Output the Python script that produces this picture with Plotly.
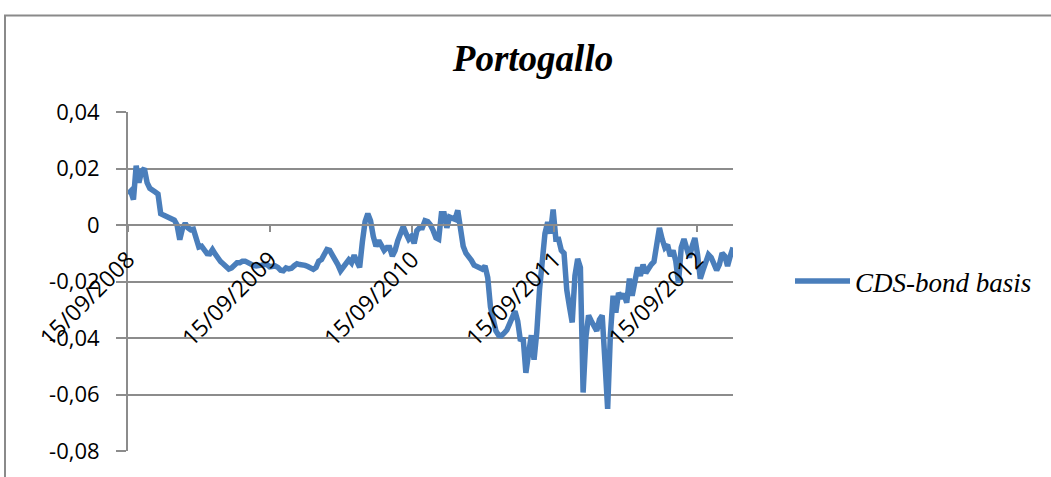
import pandas as pd
import plotly.graph_objects as go

# Weekly CDS-bond basis for Portugal, Sep 2008 - Dec 2012
start_date = "2008-09-15"
basis = [
    0.0110, 0.0120, 0.0090, 0.0210, 0.0150, 0.0190, 0.0200, 0.0150, 0.0130, 0.0120,
    0.0117, 0.0110, 0.0040, 0.0035, 0.0030, 0.0030, 0.0020, 0.0017, 0.0000, -0.0052,
    -0.0012, 0.0006, -0.0010, -0.0017, -0.0015, -0.0050, -0.0078, -0.0075, -0.0090, -0.0101,
    -0.0102, -0.0087, -0.0103, -0.0120, -0.0130, -0.0138, -0.0148, -0.0156, -0.0152, -0.0142,
    -0.0134, -0.0134, -0.0128, -0.0128, -0.0135, -0.0140, -0.0143, -0.0145, -0.0145, -0.0142,
    -0.0140, -0.0140, -0.0148, -0.0146, -0.0145, -0.0150, -0.0160, -0.0162, -0.0152, -0.0155,
    -0.0153, -0.0144, -0.0137, -0.0140, -0.0140, -0.0143, -0.0147, -0.0153, -0.0157, -0.0150,
    -0.0128, -0.0122, -0.0108, -0.0087, -0.0090, -0.0105, -0.0120, -0.0140, -0.0162, -0.0150,
    -0.0140, -0.0123, -0.0134, -0.0107, -0.0130, -0.0150, -0.0060, 0.0012, 0.0040, 0.0015,
    -0.0040, -0.0075, -0.0055, -0.0070, -0.0090, -0.0080, -0.0080, -0.0110, -0.0090, -0.0055,
    -0.0025, -0.0005, -0.0030, -0.0050, -0.0040, -0.0065, -0.0020, -0.0010, -0.0010, 0.0015,
    0.0012, 0.0000, -0.0020, -0.0045, -0.0050, 0.0040, 0.0040, -0.0010, 0.0028, 0.0025,
    0.0020, 0.0052, -0.0020, -0.0075, -0.0100, -0.0110, -0.0125, -0.0142, -0.0148, -0.0153,
    -0.0156, -0.0145, -0.0186, -0.0290, -0.0340, -0.0375, -0.0390, -0.0392, -0.0383, -0.0372,
    -0.0350, -0.0325, -0.0305, -0.0340, -0.0410, -0.0400, -0.0523, -0.0454, -0.0390, -0.0477,
    -0.0380, -0.0230, -0.0100, -0.0030, 0.0010, -0.0030, 0.0055, -0.0050, -0.0050, -0.0090,
    -0.0100, -0.0230, -0.0290, -0.0345, -0.0180, -0.0120, -0.0150, -0.0593, -0.0400, -0.0320,
    -0.0340, -0.0360, -0.0375, -0.0335, -0.0320, -0.0480, -0.0651, -0.0390, -0.0250, -0.0310,
    -0.0240, -0.0260, -0.0244, -0.0275, -0.0190, -0.0250, -0.0200, -0.0150, -0.0180, -0.0140,
    -0.0170, -0.0150, -0.0140, -0.0130, -0.0070, -0.0010, -0.0050, -0.0080, -0.0070, -0.0110,
    -0.0090, -0.0128, -0.0205, -0.0080, -0.0050, -0.0090, -0.0115, -0.0075, -0.0046, -0.0105,
    -0.0190, -0.0160, -0.0130, -0.0105, -0.0115, -0.0138, -0.0160, -0.0140, -0.0100, -0.0110,
    -0.0145, -0.0110, -0.0080,
]
dates = pd.date_range(start_date, periods=len(basis), freq="7D")

series_name = "CDS-bond basis"
chart_title = "Portogallo"

y_tick_vals = [0.04, 0.02, 0.0, -0.02, -0.04, -0.06, -0.08]
y_tick_text = ["0,04", "0,02", "0", "-0,02", "-0,04", "-0,06", "-0,08"]
x_tick_vals = ["2008-09-15", "2009-09-15", "2010-09-15", "2011-09-15", "2012-09-15"]
x_tick_text = ["15/09/2008", "15/09/2009", "15/09/2010", "15/09/2011", "15/09/2012"]

y_min, y_max = -0.08, 0.04
axis_grey = "#8c8c8c"
line_blue = "#4a7ebb"

fig = go.Figure()
fig.add_trace(go.Scatter(
    x=dates, y=basis, mode="lines", name=series_name,
    line=dict(color=line_blue, width=5.5),
    showlegend=True,
))

# x axis sits on the zero line
zero_pos = (0 - y_min) / (y_max - y_min)

fig.update_layout(
    width=1051, height=477,
    margin=dict(l=128, r=318, t=112, b=21),
    paper_bgcolor="white", plot_bgcolor="white",
    title=dict(
        text=chart_title, x=533 / 1051, xref="container", xanchor="center",
        y=1 - 58 / 477, yref="container", yanchor="middle",
        font=dict(family="Liberation Serif", size=37, color="black",
                  style="italic", weight="bold"),
    ),
    xaxis=dict(
        type="date", range=[dates[0], dates[-1]],
        anchor="free", position=zero_pos,
        tickmode="array", tickvals=x_tick_vals, ticktext=x_tick_text,
        tickangle=-45, ticklabelstandoff=5,
        tickfont=dict(family="Open Sans", size=23, color="black"),
        ticks="outside", ticklen=6, tickwidth=2, tickcolor=axis_grey,
        showline=True, linecolor=axis_grey, linewidth=2,
        showgrid=False, zeroline=False,
    ),
    yaxis=dict(
        range=[y_min, y_max],
        tickmode="array", tickvals=y_tick_vals, ticktext=y_tick_text,
        tickfont=dict(family="Open Sans", size=22, color="black"),
        ticklabelstandoff=12,
        ticks="outside", ticklen=10, tickwidth=2, tickcolor=axis_grey,
        showline=True, linecolor=axis_grey, linewidth=2,
        showgrid=True, gridcolor=axis_grey, gridwidth=2,
        zeroline=False,
    ),
    legend=dict(
        x=(790 - 128) / 605, y=(456 - 284) / 344, xanchor="left", yanchor="middle",
        font=dict(family="Liberation Serif", size=27, color="black", style="italic"),
        bgcolor="rgba(0,0,0,0)", itemwidth=55,
    ),
    shapes=[dict(
        type="rect", xref="paper", yref="paper",
        x0=(5 - 128) / 605, x1=1.8, y0=-0.2, y1=(456 - 14) / 344,
        line=dict(color="#8a8a8a", width=2), layer="below",
    )],
)

fig.write_html("out.html")
